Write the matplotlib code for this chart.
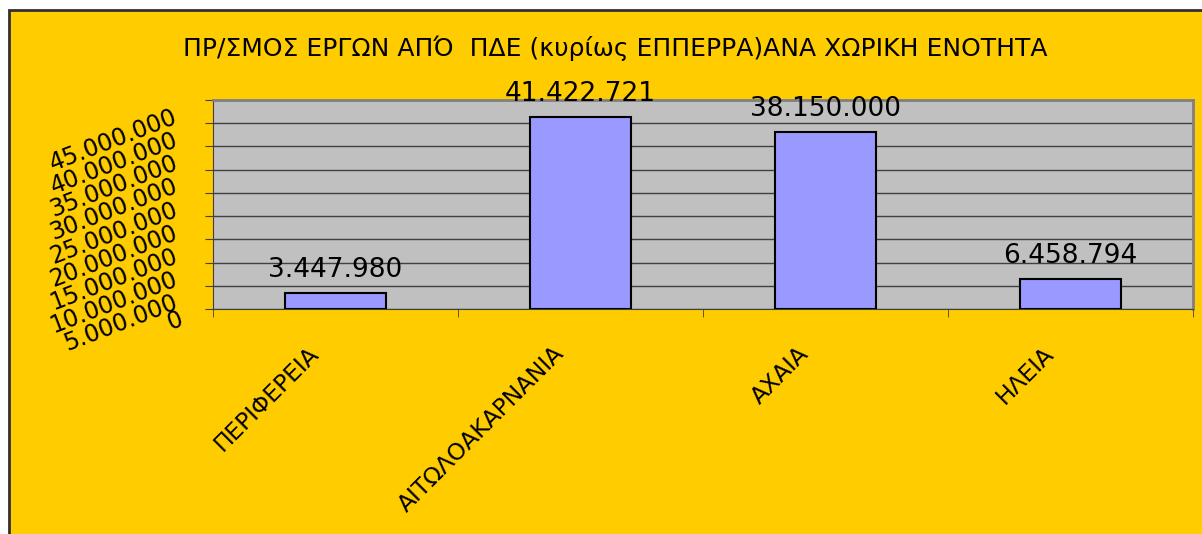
import matplotlib.pyplot as plt
import matplotlib.transforms as mtransforms
from matplotlib.patches import Rectangle

# data
regions = ['ΠΕΡΙΦΕΡΕΙΑ', 'ΑΙΤΩΛΟΑΚΑΡΝΑΝΙΑ', 'ΑΧΑΙΑ', 'ΗΛΕΙΑ']
amounts = [3447980, 41422721, 38150000, 6458794]
yticks = [0, 5000000, 10000000, 15000000, 20000000, 25000000,
          30000000, 35000000, 40000000, 45000000]


def fmt(v):
    return f'{v:,}'.replace(',', '.')


plt.rcParams['font.family'] = ['DejaVu Sans']

fig = plt.figure(figsize=(12.02, 5.34), dpi=100, facecolor='white')
# yellow chart area with dark border on top/left (right/bottom cropped)
fig.patches.append(Rectangle((9 / 1202, -0.1), 1.2, (534 - 10) / 534 + 0.1,
                             transform=fig.transFigure, facecolor='#FFCC00',
                             edgecolor='#303030', linewidth=2, zorder=-10))

ax = fig.add_axes([213 / 1202, 1 - 309 / 534, 980 / 1202, 209 / 534])
ax.set_zorder(5)
ax.set_facecolor('#C0C0C0')

x = list(range(len(regions)))
bars = ax.bar(x, amounts, width=0.41, color='#9999FF', edgecolor='black',
              linewidth=1.5, zorder=3)

ax.set_xlim(-0.5, len(regions) - 0.5)
ax.set_ylim(0, 45000000)

# gridlines
ax.set_yticks(yticks)
ax.yaxis.grid(True, color='#404040', linewidth=1, zorder=1)
ax.set_axisbelow(True)

ax.set_yticklabels([fmt(v) for v in yticks], rotation=21, fontsize=17,
                   ha='right', va='center', rotation_mode='anchor')
ax.tick_params(axis='y', direction='out', length=6, pad=20, color='#404040')
for i, lbl in enumerate(ax.get_yticklabels()):
    if i == 0:
        shift_y = mtransforms.ScaledTranslation(5 / 100, -9 / 100, fig.dpi_scale_trans)
    else:
        shift_y = mtransforms.ScaledTranslation(0, -16 / 100, fig.dpi_scale_trans)
    lbl.set_transform(lbl.get_transform() + shift_y)

# x ticks: labels at bar centers, tick marks at category boundaries
ax.set_xticks(x)
ax.set_xticklabels(regions, rotation=45, fontsize=16.8, ha='right', va='top',
                   rotation_mode='anchor')
ax.tick_params(axis='x', which='major', length=0, pad=0)
ax.set_xticks([i - 0.5 for i in range(len(regions) + 1)], minor=True)
ax.tick_params(axis='x', which='minor', direction='out', length=6,
               color='#404040')
shift_x = mtransforms.ScaledTranslation(-28 / 100, -33 / 100, fig.dpi_scale_trans)
for lbl in ax.get_xticklabels():
    lbl.set_transform(lbl.get_transform() + shift_x)

for s in ['left', 'bottom']:
    ax.spines[s].set_color('#404040')
for s in ['top', 'right']:
    ax.spines[s].set_color('#808080')
    ax.spines[s].set_linewidth(2)

# value labels
for b, v in zip(bars, amounts):
    ax.annotate(fmt(v), (b.get_x() + b.get_width() / 2, v),
                xytext=(0, 11.5), textcoords='offset points',
                ha='center', va='baseline', fontsize=19, zorder=5)

fig.text(615 / 1202, 1 - 48 / 534,
         'ΠΡ/ΣΜΟΣ ΕΡΓΩΝ ΑΠΌ  ΠΔΕ (κυρίως ΕΠΠΕΡΡΑ)ΑΝΑ ΧΩΡΙΚΗ ΕΝΟΤΗΤΑ',
         ha='center', va='center', fontsize=18,
         family=['Liberation Sans Narrow', 'DejaVu Sans'])

fig.savefig('out.png', dpi=100, facecolor=fig.get_facecolor())
